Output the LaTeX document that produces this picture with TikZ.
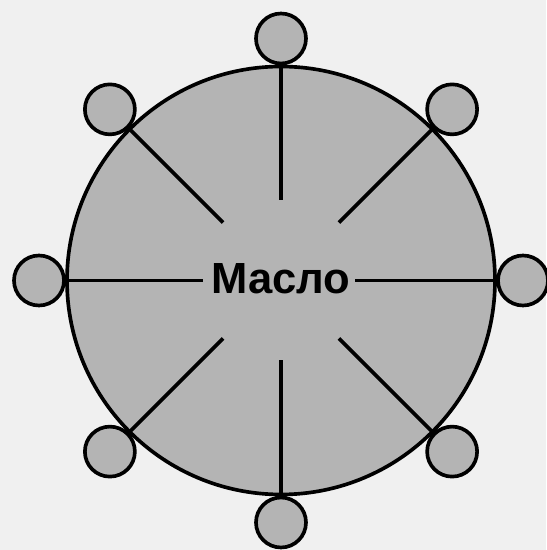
\documentclass[tikz,border=0pt]{standalone}
\usepackage{fontspec}
\setmainfont{Liberation Sans}
\usepackage{tikz}
\usetikzlibrary{positioning}
\definecolor{bgcolor}{RGB}{240,240,240}
\definecolor{oilcolor}{RGB}{180,180,180}
\tikzset{
  oil disk/.style={
    circle,
    draw=black,
    fill=oilcolor,
    line width=2.6pt,
    minimum size=10.7cm,
    inner sep=0pt
  },
  oil drop/.style={
    circle,
    draw=black,
    fill=oilcolor,
    line width=2.6pt,
    minimum size=1.25cm,
    inner sep=0pt
  },
  spoke/.style={
    draw=black,
    line width=2.6pt
  },
  oil label/.style={
    font=\fontsize{31}{33}\selectfont\bfseries,
    inner sep=1pt
  }
}

\begin{document}
\begin{tikzpicture}

  % Background and frame
  \fill[bgcolor] (-7.025,-6.7375) rectangle (6.625,7.0125);
  \useasboundingbox (-7.025,-6.7375) rectangle (6.625,7.0125);

  % Main disk
  \node[oil disk] (disk) at (0,0) {};

  % Spokes ends and drops
  \foreach \a/\r [count=\i] in {90/2,45/2.05,0/1.85,-45/2.05,-90/2,-135/2.05,180/1.95,135/2.05} {
    \coordinate (c\i) at (\a:\r cm);
    \node[oil drop] (s\i) at (\a:6.05cm) {};
    \draw[spoke] (s\i) -- (c\i);
  }

  % Label
  \node[oil label] (oil) at (0,0.05) {Масло};

\end{tikzpicture}
\end{document}
